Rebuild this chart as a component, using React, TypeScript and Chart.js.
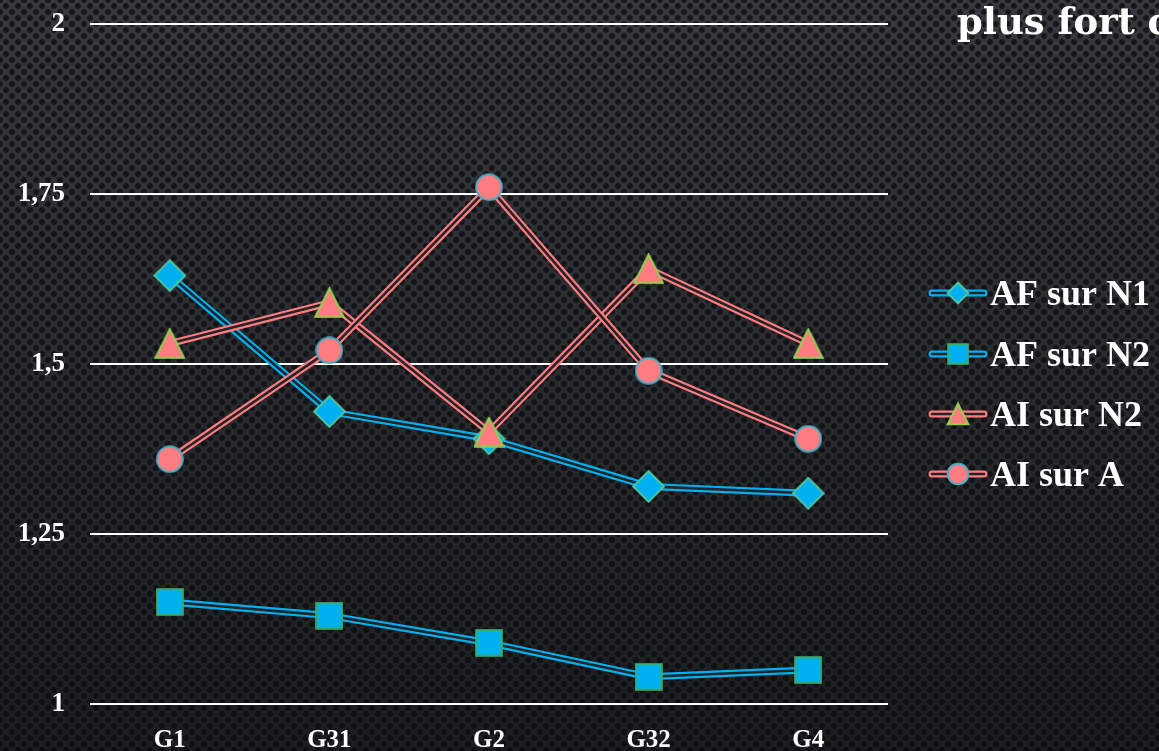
import { useEffect, useRef } from "react";
import { Chart, registerables } from "chart.js";

Chart.register(...registerables);

// ---- data ----
const categories = ["G1", "G31", "G2", "G32", "G4"];
const afSurN1 = [1.63, 1.43, 1.39, 1.32, 1.31];
const afSurN2 = [1.15, 1.13, 1.09, 1.04, 1.05];
const aiSurN2 = [1.53, 1.59, 1.4, 1.64, 1.53];
const aiSurA = [1.36, 1.52, 1.76, 1.49, 1.39];
const seriesNames = ["AF sur N1", "AF sur N2", "AI sur N2", "AI sur A"];
const yTickValues = [1, 1.25, 1.5, 1.75, 2];
const yTickLabels = ["1", "1,25", "1,5", "1,75", "2"];
const titleText = "plus fort c";

const FONT = "'Liberation Serif', serif";
const TITLE_FONT = "'DejaVu Serif', serif";
const DARK = "#222428";

type Shape = "diamond" | "square" | "triangle" | "circle";
const seriesStyles: { line: string; fill: string; border: string; shape: Shape; size: number; legendSize: number }[] = [
  { line: "#00B0F0", fill: "#00B0F0", border: "#52C4A0", shape: "diamond", size: 33, legendSize: 23 },
  { line: "#00B0F0", fill: "#00B0F0", border: "#3DAE6A", shape: "square", size: 28, legendSize: 22 },
  { line: "#FF7C80", fill: "#FF7C80", border: "#92D050", shape: "triangle", size: 31, legendSize: 23 },
  { line: "#FF7C80", fill: "#FF7C80", border: "#4BACC6", shape: "circle", size: 28, legendSize: 23 },
];

function drawShape(ctx: CanvasRenderingContext2D, shape: Shape, cx: number, cy: number, s: number, fill: string, border: string) {
  const h = s / 2 - 1.2;
  ctx.beginPath();
  if (shape === "diamond") {
    ctx.moveTo(cx, cy - h);
    ctx.lineTo(cx + h, cy);
    ctx.lineTo(cx, cy + h);
    ctx.lineTo(cx - h, cy);
    ctx.closePath();
  } else if (shape === "square") {
    ctx.rect(cx - h, cy - h, 2 * h, 2 * h);
  } else if (shape === "triangle") {
    ctx.moveTo(cx, cy - h);
    ctx.lineTo(cx + h, cy + h);
    ctx.lineTo(cx - h, cy + h);
    ctx.closePath();
  } else {
    ctx.arc(cx, cy, h, 0, Math.PI * 2);
  }
  ctx.fillStyle = fill;
  ctx.fill();
  ctx.lineWidth = 2;
  ctx.strokeStyle = border;
  ctx.lineJoin = "miter";
  ctx.stroke();
}

function makeMarker(st: (typeof seriesStyles)[number]) {
  const c = document.createElement("canvas");
  c.width = st.size;
  c.height = st.size;
  const ctx = c.getContext("2d")!;
  drawShape(ctx, st.shape, st.size / 2, st.size / 2, st.size, st.fill, st.border);
  return c;
}

export default function App() {
  const ref = useRef<HTMLCanvasElement | null>(null);

  useEffect(() => {
    document.body.style.margin = "0";
    document.body.style.overflow = "hidden";
    const seriesData = [afSurN1, afSurN2, aiSurN2, aiSurA];
    const datasets: any[] = [];
    seriesData.forEach((arr, s) => {
      const st = seriesStyles[s];
      const base = (3 - s) * 10;
      datasets.push({
        label: seriesNames[s] + " outer",
        data: arr,
        borderColor: st.line,
        borderWidth: 7,
        pointRadius: 0,
        fill: false,
        tension: 0,
        borderJoinStyle: "round",
        order: base + 3,
      });
      datasets.push({
        label: seriesNames[s] + " inner",
        data: arr,
        borderColor: DARK,
        borderWidth: 2.6,
        pointRadius: 0,
        fill: false,
        tension: 0,
        borderJoinStyle: "round",
        order: base + 2,
      });
      datasets.push({
        label: seriesNames[s],
        data: arr,
        showLine: false,
        pointStyle: makeMarker(st),
        pointRadius: st.size / 2,
        order: base + 1,
      });
    });

    const legendPlugin = {
      id: "customLegend",
      afterDraw(chart: any) {
        const ctx: CanvasRenderingContext2D = chart.ctx;
        ctx.save();
        // title
        ctx.fillStyle = "#FFFFFF";
        ctx.font = `bold 37px ${TITLE_FONT}`;
        ctx.textBaseline = "alphabetic";
        ctx.textAlign = "left";
        ctx.fillText(titleText, 957, 34);
        // legend
        const x0 = 929;
        const x1 = 987;
        const rows = [293, 354, 414, 474];
        seriesNames.forEach((name, i) => {
          const st = seriesStyles[i];
          const y = rows[i];
          ctx.lineCap = "round";
          ctx.beginPath();
          ctx.moveTo(x0 + 3, y);
          ctx.lineTo(x1 - 3, y);
          ctx.strokeStyle = st.line;
          ctx.lineWidth = 7;
          ctx.stroke();
          ctx.beginPath();
          ctx.moveTo(x0 + 3, y);
          ctx.lineTo(x1 - 3, y);
          ctx.strokeStyle = DARK;
          ctx.lineWidth = 2.6;
          ctx.stroke();
          drawShape(ctx, st.shape, (x0 + x1) / 2, y, st.legendSize, st.fill, st.border);
          ctx.fillStyle = "#FFFFFF";
          ctx.font = `bold 36px ${FONT}`;
          ctx.textBaseline = "alphabetic";
          ctx.fillText(name, 990, y + 12);
        });
        ctx.restore();
      },
    };

    const chart = new Chart(ref.current!, {
      type: "line",
      data: { labels: categories, datasets },
      plugins: [legendPlugin],
      options: {
        animation: false,
        responsive: false,
        events: [],
        layout: { padding: { left: 0, right: 271, top: 24, bottom: 0 } },
        plugins: { legend: { display: false }, tooltip: { enabled: false } },
        scales: {
          x: {
            type: "category",
            offset: true,
            grid: { display: false },
            border: { display: false },
            ticks: { color: "#FFFFFF", font: { family: FONT, size: 25, weight: "bold" }, padding: 14 },
            afterFit: (s: any) => {
              s.height = 47;
              s.paddingLeft = 0;
              s.paddingRight = 0;
            },
          },
          y: {
            min: 1,
            max: 2,
            afterBuildTicks: (s: any) => {
              s.ticks = yTickValues.map((v) => ({ value: v }));
            },
            grid: { color: "#FFFFFF", lineWidth: 2, drawTicks: false },
            border: { display: false },
            ticks: {
              color: "#FFFFFF",
              padding: 25,
              font: { family: FONT, size: 27, weight: "bold" },
              callback: (v: any) => {
                const i = yTickValues.indexOf(Number(v));
                return i >= 0 ? yTickLabels[i] : "";
              },
            },
            afterFit: (s: any) => {
              s.width = 90;
              s.paddingTop = 0;
              s.paddingBottom = 0;
            },
          },
        },
      },
    } as any);
    return () => chart.destroy();
  }, []);

  return (
    <div
      style={{
        width: 1159,
        height: 751,
        position: "relative",
        overflow: "hidden",
        backgroundColor: "#2c2e32",
        backgroundImage:
          "radial-gradient(circle, rgba(8,9,11,0.7) 0 2.4px, rgba(8,9,11,0) 3.6px)," +
          "radial-gradient(circle, rgba(8,9,11,0.7) 0 2.4px, rgba(8,9,11,0) 3.6px)," +
          "linear-gradient(180deg, #37393e 0%, #2a2c30 45%, #1c1d20 100%)",
        backgroundSize: "12px 12px, 12px 12px, 100% 100%",
        backgroundPosition: "0 0, 6px 6px, 0 0",
      }}
    >
      <canvas ref={ref} width={1159} height={751} style={{ display: "block" }} />
    </div>
  );
}
